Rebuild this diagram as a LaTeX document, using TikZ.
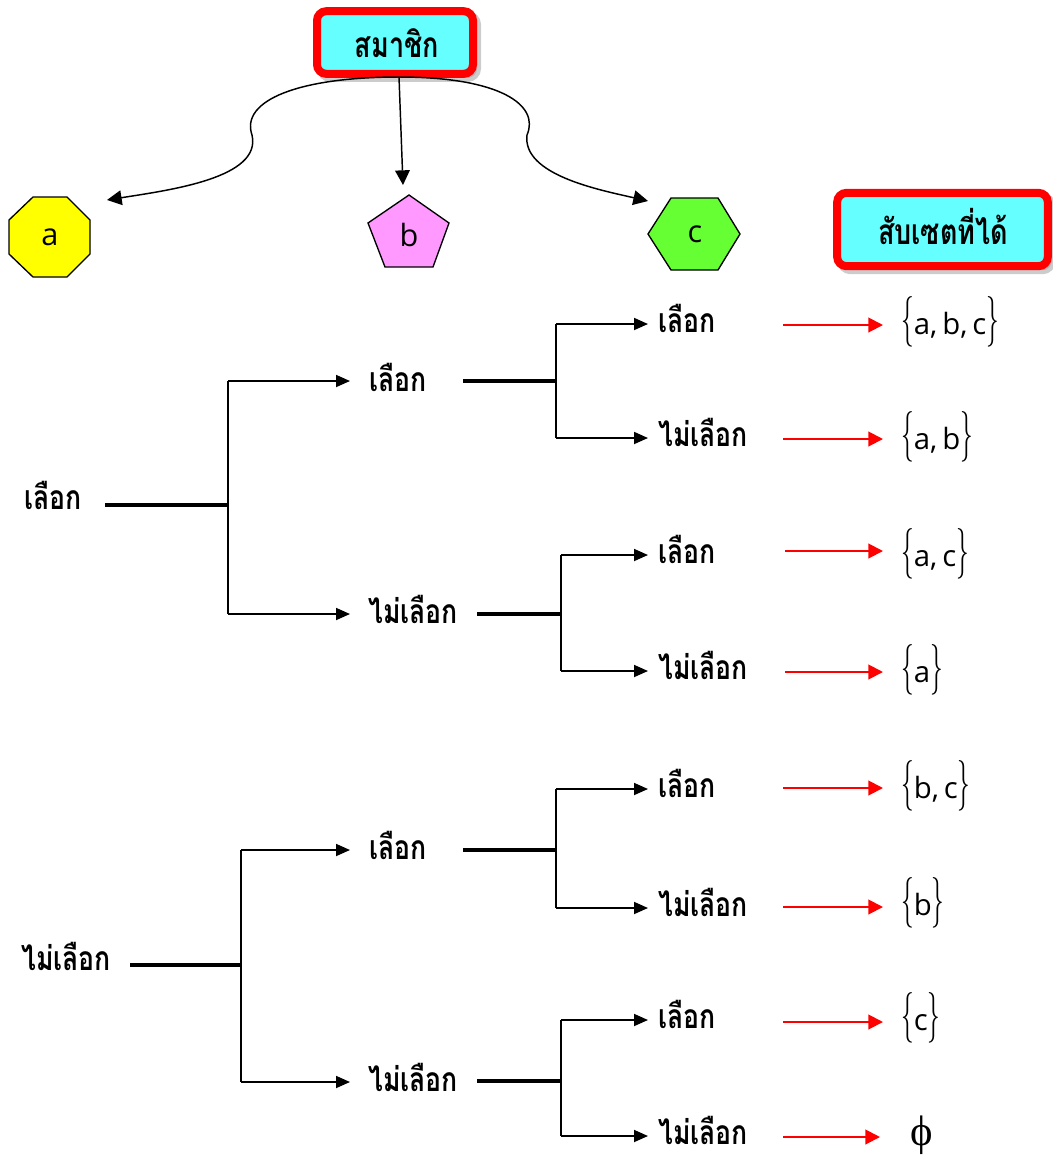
\documentclass[tikz,border=0pt]{standalone}
\usepackage{fontspec}
\usepackage{graphicx}
\usetikzlibrary{arrows.meta,shadows}
\newfontfamily\thai[Script=Thai]{Loma}
\newfontfamily\setfont{Open Sans}
\newfontfamily\phifont{Liberation Serif}
\definecolor{boxcyan}{HTML}{66FFFF}
\definecolor{boxred}{HTML}{FF0000}
\definecolor{octyellow}{HTML}{FFFF00}
\definecolor{pentpink}{HTML}{FF99FF}
\definecolor{hexgreen}{HTML}{66FF33}
\newcommand\brL{\scalebox{0.5}[1]{\fontsize{38}{38}\selectfont\{}}
\newcommand\brR{\scalebox{0.5}[1]{\fontsize{38}{38}\selectfont\}}}
\newcommand\mkset[1]{\brL{\setfont\fontsize{22}{22}\selectfont #1}\brR}
\newcommand\tx[1]{\scalebox{0.95}[1.2]{#1}}
\newcommand\bx[1]{\scalebox{0.92}[1.2]{#1}}
\tikzset{
  titlebox/.style={draw=boxred, line width=6pt, fill=boxcyan, rounded corners=7pt,
    inner sep=0pt, font=\thai\bfseries\fontsize{22}{22}\selectfont,
    drop shadow={shadow xshift=3pt, shadow yshift=-3pt, fill=gray!80, draw=gray!80, line width=6pt}},
  shapetext/.style={font=\setfont\fontsize{23}{23}\selectfont, inner sep=0pt},
  lbl/.style={font=\thai\bfseries\fontsize{21}{21}\selectfont, inner sep=0pt, anchor=base west},
  setlbl/.style={inner sep=0pt, anchor=west},
  stem/.style={line width=2.6pt},
  branch/.style={line width=1.3pt},
  arr/.style={line width=1.3pt, -{Triangle[length=10.5pt,width=9pt]}},
  redarr/.style={draw=boxred, line width=1.5pt, -{Triangle[length=11pt,width=11pt]}},
  curve/.style={line width=1.1pt, -{Triangle[length=11pt,width=11pt]}}
}
\begin{document}
\begin{tikzpicture}[x=0.75pt,y=-0.75pt]
\useasboundingbox (0,0) rectangle (1053,1158);

% title boxes
\node[titlebox, minimum width=117pt, minimum height=47pt] (top) at (395,42.5) {};
\node[font=\thai\bfseries\fontsize{22}{22}\selectfont, inner sep=0pt, anchor=base] (topt) at (397,57) {\bx{สมาชิก}};
\node[titlebox, minimum width=158pt, minimum height=55pt] (res) at (942.5,229.5) {};
\node[font=\thai\bfseries\fontsize{22}{22}\selectfont, inner sep=0pt, anchor=base] (rest) at (943,244) {\bx{สับเซตที่ได้}};

% shapes
\draw[fill=octyellow, line width=1pt] (33,197) -- (67,197) -- (90,220) -- (90,254) -- (67,277) -- (33,277) -- (9,254) -- (9,220) -- cycle;
\node[shapetext] (a) at (50,237) {a};
\draw[fill=pentpink, line width=1pt] (409,195) -- (449,223) -- (433,267) -- (385,267) -- (368,223) -- cycle;
\node[shapetext] (b) at (409,235) {b};
\draw[fill=hexgreen, line width=1pt] (648,234) -- (671,198) -- (718,198) -- (740,234) -- (718,270) -- (671,270) -- cycle;
\node[shapetext] (c) at (695,234) {c};

% curved connectors from the top box
\coordinate (ta) at (107,200);
\coordinate (tb) at (403,185);
\coordinate (tc) at (648,201);
\coordinate (tt) at (399,77);
\draw[curve] (tt) .. controls (300,77) and (240,100) .. (252,135) .. controls (262,178) and (170,190) .. (ta);
\draw[curve] (tt) .. controls (500,77) and (540,105) .. (527,135) .. controls (522,175) and (600,190) .. (tc);
\draw[curve] (tt) -- (tb);

% ---------- upper tree ----------
\node[lbl] (L1a) at (24,509) {\tx{เลือก}};
\coordinate (s1) at (105,505);
\coordinate (J1) at (228,505);
\coordinate (J1t) at (228,381);
\coordinate (J1b) at (228,614);
\draw[stem] (s1) -- (J1);
\draw[branch] (J1t) -- (J1b);
\node[lbl] (L2a) at (369,391) {\tx{เลือก}};
\node[lbl] (L2b) at (368,623) {\tx{ไม่เลือก}};
\coordinate (e2a) at (350,381);
\coordinate (e2b) at (350,614);
\draw[arr] (J1t) -- (e2a);
\draw[arr] (J1b) -- (e2b);

\coordinate (s2) at (463,381);
\coordinate (J2) at (556,381);
\coordinate (J2t) at (556,324);
\coordinate (J2b) at (556,438);
\draw[stem] (s2) -- (J2);
\draw[branch] (J2t) -- (J2b);
\coordinate (s3) at (477,614);
\coordinate (J3) at (561,614);
\coordinate (J3t) at (561,555);
\coordinate (J3b) at (561,671);
\draw[stem] (s3) -- (J3);
\draw[branch] (J3t) -- (J3b);

\node[lbl] (L3a) at (658,332) {\tx{เลือก}};
\node[lbl] (L3b) at (658,446) {\tx{ไม่เลือก}};
\node[lbl] (L3c) at (658,563) {\tx{เลือก}};
\node[lbl] (L3d) at (658,679) {\tx{ไม่เลือก}};
\coordinate (e3a) at (648,324);
\coordinate (e3b) at (648,438);
\coordinate (e3c) at (648,555);
\coordinate (e3d) at (648,671);
\draw[arr] (J2t) -- (e3a);
\draw[arr] (J2b) -- (e3b);
\draw[arr] (J3t) -- (e3c);
\draw[arr] (J3b) -- (e3d);

% ---------- lower tree ----------
\node[lbl] (L1b) at (21,970) {\tx{ไม่เลือก}};
\coordinate (s4) at (130,965);
\coordinate (J4) at (241,965);
\coordinate (J4t) at (241,850);
\coordinate (J4b) at (241,1082);
\draw[stem] (s4) -- (J4);
\draw[branch] (J4t) -- (J4b);
\node[lbl] (L2c) at (369,859) {\tx{เลือก}};
\node[lbl] (L2d) at (368,1091) {\tx{ไม่เลือก}};
\coordinate (e2c) at (350,850);
\coordinate (e2d) at (350,1082);
\draw[arr] (J4t) -- (e2c);
\draw[arr] (J4b) -- (e2d);

\coordinate (s5) at (463,850);
\coordinate (J5) at (556,850);
\coordinate (J5t) at (556,789);
\coordinate (J5b) at (556,908);
\draw[stem] (s5) -- (J5);
\draw[branch] (J5t) -- (J5b);
\coordinate (s6) at (477,1081);
\coordinate (J6) at (561,1081);
\coordinate (J6t) at (561,1020);
\coordinate (J6b) at (561,1136);
\draw[stem] (s6) -- (J6);
\draw[branch] (J6t) -- (J6b);

\node[lbl] (L3e) at (658,797) {\tx{เลือก}};
\node[lbl] (L3f) at (658,916) {\tx{ไม่เลือก}};
\node[lbl] (L3g) at (658,1028) {\tx{เลือก}};
\node[lbl] (L3h) at (658,1144) {\tx{ไม่เลือก}};
\coordinate (e3e) at (648,789);
\coordinate (e3f) at (648,908);
\coordinate (e3g) at (648,1020);
\coordinate (e3h) at (648,1136);
\draw[arr] (J5t) -- (e3e);
\draw[arr] (J5b) -- (e3f);
\draw[arr] (J6t) -- (e3g);
\draw[arr] (J6b) -- (e3h);

% ---------- resulting subsets ----------
\node[setlbl] (S1) at (901,322) {\mkset{a,\,b,\,c}};
\node[setlbl] (S2) at (901,437) {\mkset{a,\,b}};
\node[setlbl] (S3) at (901,554) {\mkset{a,\,c}};
\node[setlbl] (S4) at (901,670) {\mkset{a}};
\node[setlbl] (S5) at (901,786) {\mkset{b,\,c}};
\node[setlbl] (S6) at (901,903) {\mkset{b}};
\node[setlbl] (S7) at (901,1018) {\mkset{c}};
\node[inner sep=0pt, font=\phifont\fontsize{32}{32}\selectfont] (S8) at (922,1135) {ϕ};

\foreach \i/\y/\xs/\xe in {1/325/783/883, 2/439/783/883, 3/551/785/883, 4/672/785/883, 5/788/783/883, 6/907/783/883, 7/1022/783/883, 8/1137/783/880} {
  \coordinate (r\i) at (\xs,\y);
  \coordinate (q\i) at (\xe,\y);
  \draw[redarr] (r\i) -- (q\i);
}
\end{tikzpicture}
\end{document}
